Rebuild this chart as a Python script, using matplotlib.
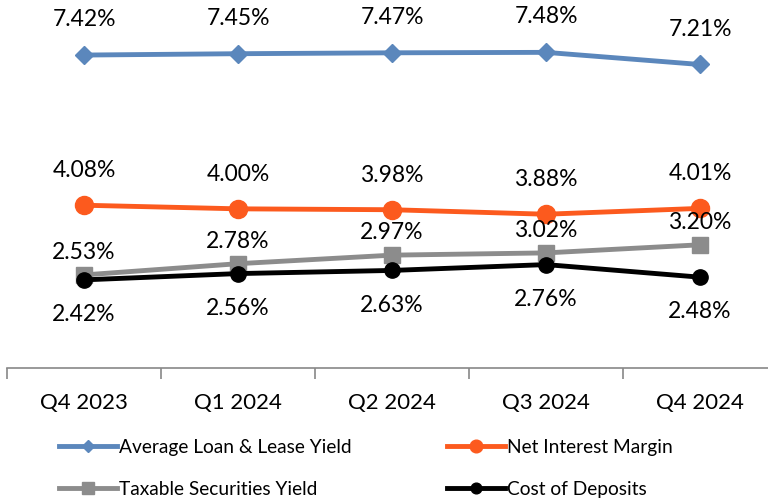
import matplotlib
matplotlib.use('Agg')
import matplotlib.pyplot as plt

quarters = ['Q4 2023', 'Q1 2024', 'Q2 2024', 'Q3 2024', 'Q4 2024']
loan_yield = [7.42, 7.45, 7.47, 7.48, 7.21]
nim = [4.08, 4.00, 3.98, 3.88, 4.01]
securities_yield = [2.53, 2.78, 2.97, 3.02, 3.20]
cost_of_deposits = [2.42, 2.56, 2.63, 2.76, 2.48]

plt.rcParams['font.family'] = ['Lato', 'DejaVu Sans']

fig = plt.figure(figsize=(7.68, 5), dpi=100)
ax = fig.add_axes([7 / 768, 132 / 500, 770 / 768, 366 / 500])

x = list(range(len(quarters)))
l1, = ax.plot(x, loan_yield, color='#5B87BC', lw=3.5, marker='D', ms=9,
              label='Average Loan & Lease Yield')
l2, = ax.plot(x, nim, color='#FC5A1E', lw=3.5, marker='o', ms=13,
              label='Net Interest Margin')
l3, = ax.plot(x, securities_yield, color='#8C8C8C', lw=3.5, marker='s', ms=12,
              label='Taxable Securities Yield')
l4, = ax.plot(x, cost_of_deposits, color='black', lw=3.5, marker='o', ms=11,
              label='Cost of Deposits')

fs = 16.5
for i in x:
    ax.annotate(f'{loan_yield[i]:.2f}%', (i, loan_yield[i]), xytext=(0, 25.5),
                textcoords='offset points', ha='center', va='center', fontsize=fs)
    ax.annotate(f'{nim[i]:.2f}%', (i, nim[i]), xytext=(0, 25),
                textcoords='offset points', ha='center', va='center', fontsize=fs)
    ax.annotate(f'{securities_yield[i]:.2f}%', (i, securities_yield[i]), xytext=(0, 16),
                textcoords='offset points', ha='center', va='center', fontsize=fs)
    ax.annotate(f'{cost_of_deposits[i]:.2f}%', (i, cost_of_deposits[i]), xytext=(0, -25),
                textcoords='offset points', ha='center', va='center', fontsize=fs)

ax.set_xlim(-0.5, 4.5)
ax.set_ylim(0.46, 8.6)
ax.set_yticks([])
ax.set_xticks([i - 0.5 for i in x] + [4.5])
ax.set_xticklabels([])
ax.set_xticks(x, minor=True)
ax.set_xticklabels(quarters, minor=True, fontsize=16)
ax.tick_params(axis='x', which='major', length=8, width=1.2, color='#888888')
ax.tick_params(axis='x', which='minor', length=0, pad=18)
for side in ['top', 'right', 'left']:
    ax.spines[side].set_visible(False)
ax.spines['bottom'].set_color('#888888')
ax.spines['bottom'].set_linewidth(1.2)

# column-major fill, so order gives row 1: loan, nim / row 2: securities, deposits
fig.legend([l1, l3, l2, l4], [l.get_label() for l in [l1, l3, l2, l4]],
           loc='center', bbox_to_anchor=(0.4765, 0.063), ncol=2, frameon=False,
           fontsize=13.8, handlelength=3.0, handletextpad=0.1, markerscale=0.7,
           columnspacing=5.0, labelspacing=1.3)

fig.savefig('out.png', dpi=100)
